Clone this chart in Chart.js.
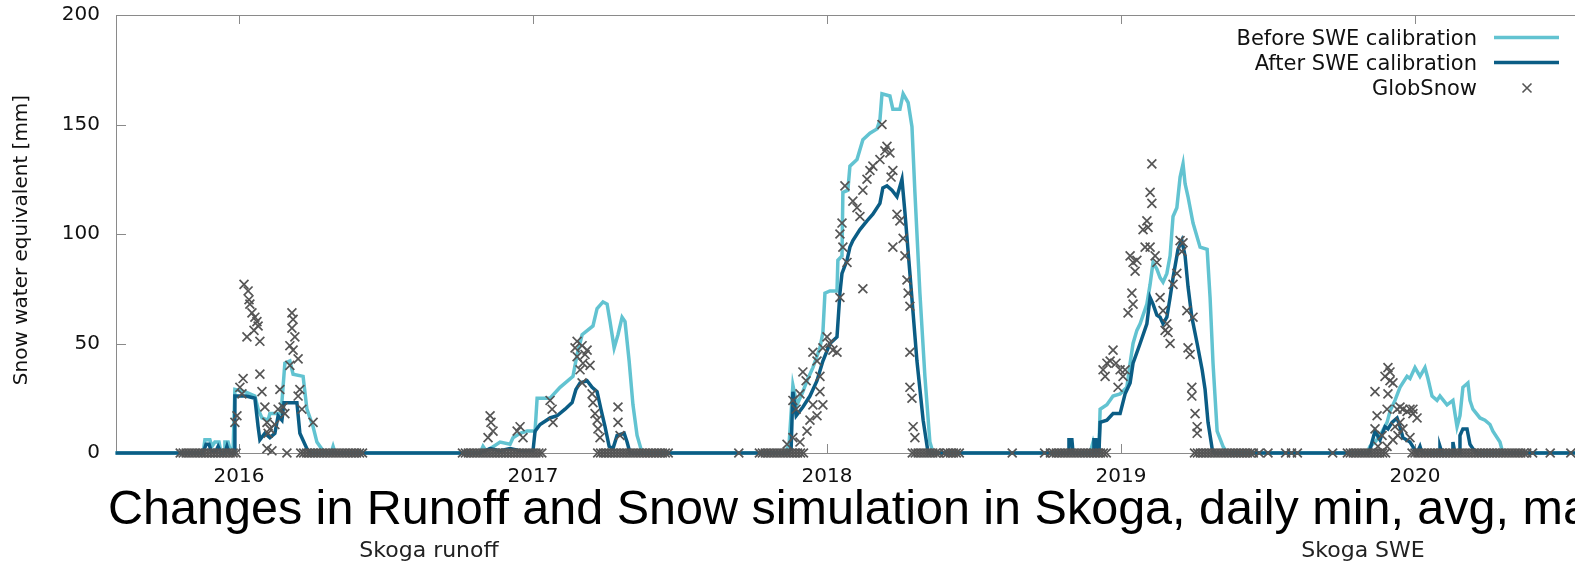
<!DOCTYPE html>
<html>
<head>
<meta charset="utf-8">
<title>Skoga SWE</title>
<script src="https://cdn.jsdelivr.net/npm/chart.js@4.4.1/dist/chart.umd.min.js"></script>
<style>
    html, body { margin: 0; padding: 0; background: #fff; overflow: hidden; }
    #wrap { width: 1575px; height: 564px; overflow: hidden; }
</style>
</head>
<body>
<div id="wrap"><canvas id="sweChart" width="1620" height="564"></canvas></div>
<script>
// dates are decimal years, values are snow water equivalent in mm
const yearTicks = [2016, 2017, 2018, 2019, 2020];
const sweTicks = [0, 50, 100, 150, 200];

const beforeYears = [
    2015.58,
    2015.878, 2015.884, 2015.901, 2015.908, 2015.918, 2015.932, 2015.939, 2015.949, 2015.952, 2015.963, 2015.969, 2015.980,
    2015.986, 2016.020, 2016.054, 2016.065, 2016.078, 2016.099, 2016.105, 2016.143, 2016.156, 2016.173, 2016.184, 2016.218,
    2016.231, 2016.252, 2016.265, 2016.286, 2016.299, 2016.313, 2016.320, 2016.327,
    2016.820, 2016.830, 2016.840, 2016.854, 2016.888, 2016.922, 2016.932, 2016.956, 2016.980, 2017.007, 2017.014, 2017.058,
    2017.092, 2017.136, 2017.150, 2017.167, 2017.204, 2017.218, 2017.238, 2017.252, 2017.262, 2017.276, 2017.289, 2017.303,
    2017.313, 2017.327, 2017.340, 2017.354, 2017.367, 2017.374,
    2017.857, 2017.871, 2017.884, 2017.898, 2017.918, 2017.932, 2017.952, 2017.976, 2017.986, 2017.993, 2018.010, 2018.034,
    2018.037, 2018.051, 2018.054, 2018.071, 2018.078, 2018.102, 2018.122, 2018.146, 2018.170, 2018.180, 2018.187, 2018.214,
    2018.224, 2018.248, 2018.259, 2018.276, 2018.289, 2018.299, 2018.316, 2018.333, 2018.350, 2018.361,
    2018.895, 2018.905, 2018.915, 2018.925, 2018.929, 2018.952, 2018.973, 2018.997, 2019.020, 2019.031, 2019.041, 2019.054,
    2019.065, 2019.088, 2019.099, 2019.109, 2019.122, 2019.133, 2019.143, 2019.156, 2019.167, 2019.177, 2019.190, 2019.201,
    2019.211, 2019.218, 2019.228, 2019.245, 2019.269, 2019.293, 2019.303, 2019.313, 2019.327, 2019.347, 2019.361,
    2019.837, 2019.847, 2019.864, 2019.881, 2019.905, 2019.915, 2019.932, 2019.949, 2019.973, 2019.983, 2020.000, 2020.017,
    2020.034, 2020.044, 2020.058, 2020.075, 2020.085, 2020.109, 2020.129, 2020.143, 2020.153, 2020.163, 2020.180, 2020.187,
    2020.197, 2020.221, 2020.238, 2020.255, 2020.265, 2020.289, 2020.299,
    2020.66
];
const beforeSWE = [
    0,
    0, 6, 6, 3, 5, 5, 0, 0, 5, 5, 2, 2,
    29, 28, 26, 20, 16, 15, 18, 18, 41, 42, 36, 35,
    20, 12, 5, 1, 0, 0, 3, 0,
    0, 3, 1, 2, 5, 4, 7, 9, 10, 10, 25, 25,
    30, 35, 45, 54, 58, 66, 69, 68, 60, 48, 54, 62,
    60, 42, 22, 8, 2, 0,
    0, 4, 31, 22, 28, 33, 39, 48, 55, 73, 74, 74,
    88, 90, 119, 120, 131, 134, 143, 146, 148, 152, 164, 163,
    157, 157, 164, 160, 149, 119, 73, 35, 5, 0,
    0, 5, 0, 2, 20, 22, 26, 27, 30, 41, 50, 56,
    59, 68, 77, 87, 84, 80, 78, 82, 90, 108, 112, 126,
    132, 123, 117, 105, 94, 93, 71, 41, 10, 3, 0,
    0, 3, 5, 8, 14, 19, 24, 30, 35, 34, 39, 35,
    39, 34, 26, 24, 26, 22, 24, 12, 17, 30, 32, 24,
    20, 16, 15, 13, 10, 5, 0,
    0
];

const afterYears = [
    2015.58,
    2015.878, 2015.888, 2015.898, 2015.905, 2015.922, 2015.929, 2015.939, 2015.952, 2015.959, 2015.966, 2015.983, 2015.986,
    2016.024, 2016.054, 2016.065, 2016.071, 2016.088, 2016.105, 2016.122, 2016.133, 2016.146, 2016.153, 2016.197, 2016.207,
    2016.224, 2016.231, 2016.241,
    2016.820, 2016.854, 2016.888, 2016.922, 2016.956, 2017.000, 2017.007, 2017.024, 2017.058, 2017.082, 2017.109, 2017.133,
    2017.146, 2017.160, 2017.184, 2017.201, 2017.218, 2017.231, 2017.245, 2017.259, 2017.272, 2017.286, 2017.310, 2017.320,
    2017.330,
    2017.867, 2017.878, 2017.884, 2017.895, 2017.918, 2017.942, 2017.966, 2017.986, 2018.010, 2018.034, 2018.044, 2018.051,
    2018.068, 2018.078, 2018.088, 2018.112, 2018.136, 2018.156, 2018.180, 2018.190, 2018.204, 2018.221, 2018.238, 2018.255,
    2018.265, 2018.282, 2018.306, 2018.327, 2018.344,
    2018.820, 2018.823, 2018.833, 2018.837, 2018.905, 2018.908, 2018.915, 2018.918, 2018.925, 2018.929, 2018.952, 2018.973,
    2018.997, 2019.014, 2019.031, 2019.041, 2019.065, 2019.088, 2019.099, 2019.109, 2019.122, 2019.133, 2019.143, 2019.156,
    2019.167, 2019.177, 2019.194, 2019.207, 2019.218, 2019.228, 2019.241, 2019.259, 2019.276, 2019.286, 2019.296, 2019.310,
    2019.316,
    2019.844, 2019.854, 2019.864, 2019.881, 2019.898, 2019.908, 2019.922, 2019.939, 2019.949, 2019.959, 2019.983, 2019.997,
    2020.007, 2020.017, 2020.024, 2020.082, 2020.085, 2020.092, 2020.126, 2020.129, 2020.136, 2020.150, 2020.153, 2020.163,
    2020.177, 2020.187, 2020.197, 2020.211,
    2020.66
];
const afterSWE = [
    0,
    0, 4, 4, 1, 1, 3, 0, 0, 3, 0, 0, 26,
    26, 25, 12, 6, 9, 7, 9, 17, 15, 23, 23, 9,
    4, 2, 0,
    0, 2, 1, 2, 1, 1, 10, 13, 16, 17, 20, 23,
    29, 32, 33, 30, 28, 20, 12, 3, 2, 8, 9, 5,
    0,
    0, 2, 28, 17, 21, 26, 33, 42, 50, 53, 73, 82,
    88, 94, 97, 102, 106, 109, 114, 121, 122, 120, 117, 125,
    110, 82, 42, 15, 0,
    0, 6, 6, 0, 0, 6, 6, 0, 0, 14, 15, 18,
    18, 27, 32, 41, 50, 59, 71, 68, 63, 62, 59, 62,
    71, 80, 93, 97, 90, 76, 62, 50, 38, 29, 14, 2,
    0,
    0, 5, 10, 6, 12, 11, 14, 16, 12, 7, 5, 2,
    0, 3, 0, 0, 3, 0, 0, 5, 0, 0, 8, 11,
    11, 4, 2, 0,
    0
];

// GlobSnow observations above zero
const globYears = [
    2016.017, 2016.031, 2016.037, 2016.044, 2016.054, 2016.061, 2016.065, 2016.027, 2016.071, 2016.051, 2016.034, 2016.071,
    2016.014, 2016.003, 2016.010, 2015.993, 2015.986, 2016.078, 2016.088, 2016.095, 2016.105, 2016.112, 2016.099, 2016.139,
    2016.150, 2016.133, 2016.180, 2016.184, 2016.180, 2016.190, 2016.173, 2016.184, 2016.201, 2016.173, 2016.207, 2016.201,
    2016.214, 2016.252, 2016.163, 2016.095, 2016.122, 2016.156,
    2016.854, 2016.857, 2016.864, 2016.847, 2016.956, 2016.946, 2016.966, 2017.058, 2017.065, 2017.068, 2017.150, 2017.167,
    2017.184, 2017.150, 2017.170, 2017.194, 2017.160, 2017.167, 2017.201, 2017.204, 2017.211, 2017.218, 2017.221, 2017.228,
    2017.289, 2017.289, 2017.296, 2017.177, 2017.143,
    2017.864, 2017.884, 2017.908, 2017.884, 2017.895, 2017.918, 2017.929, 2017.908, 2017.942, 2017.932, 2017.952, 2017.952,
    2017.966, 2017.976, 2017.986, 2018.000, 2018.010, 2018.020, 2018.034, 2017.976, 2017.986, 2017.966, 2018.044, 2018.068,
    2018.054, 2018.044, 2018.051, 2018.061, 2018.088, 2018.102, 2018.112, 2018.122, 2018.136, 2018.146, 2018.156, 2018.180,
    2018.197, 2018.204, 2018.214, 2018.224, 2018.218, 2018.122, 2018.187, 2018.238, 2018.248, 2018.224, 2018.259, 2018.265,
    2018.272, 2018.276, 2018.282, 2018.282, 2018.282, 2018.289, 2018.293, 2018.299,
    2018.939, 2018.952, 2018.963, 2018.973, 2018.983, 2018.997, 2019.007, 2018.990, 2019.014, 2018.946, 2019.024, 2019.037,
    2019.041, 2019.031, 2019.041, 2019.054, 2019.048, 2019.105, 2019.099, 2019.105, 2019.088, 2019.092, 2019.075, 2019.082,
    2019.099, 2019.116, 2019.122, 2019.133, 2019.143, 2019.156, 2019.160, 2019.167, 2019.150, 2019.177, 2019.190, 2019.201,
    2019.211, 2019.207, 2019.228, 2019.235, 2019.241, 2019.241, 2019.252, 2019.259, 2019.259, 2019.224, 2019.245,
    2019.864, 2019.908, 2019.915, 2019.915, 2019.908, 2019.925, 2019.905, 2019.871, 2019.864, 2019.888, 2019.874, 2019.939,
    2019.949, 2019.959, 2019.973, 2019.983, 2019.993, 2019.949, 2019.959, 2019.942, 2019.925, 2019.983, 2019.905, 2019.993,
    2020.007, 2019.898, 2019.932
];
const globSWE = [
    77, 74, 68, 64, 62, 60, 58, 53, 51, 56, 70, 36,
    34, 30, 27, 17, 14, 28, 21, 14, 11, 1, 9, 29,
    21, 20, 64, 61, 57, 53, 49, 47, 43, 40, 29, 26,
    20, 14, 0, 2, 13, 18,
    17, 14, 10, 7, 12, 10, 7, 24, 20, 14, 51, 49,
    47, 44, 41, 40, 38, 32, 27, 23, 18, 15, 11, 7,
    21, 14, 8, 45, 48,
    4, 7, 5, 24, 20, 37, 33, 27, 15, 10, 22, 46,
    42, 35, 48, 53, 50, 47, 46, 28, 22, 17, 71, 87,
    94, 100, 105, 122, 115, 112, 108, 120, 125, 129, 131, 134,
    138, 140, 137, 129, 126, 75, 150, 109, 106, 94, 98, 90,
    79, 73, 67, 46, 30, 25, 12, 7,
    38, 41, 42, 47, 41, 38, 35, 30, 38, 35, 64, 73,
    68, 90, 87, 88, 83, 132, 119, 114, 106, 103, 102, 94,
    94, 90, 87, 71, 65, 59, 55, 50, 56, 77, 82, 97,
    96, 92, 48, 45, 30, 26, 18, 12, 9, 65, 62,
    28, 39, 37, 33, 27, 32, 20, 17, 11, 8, 3, 20,
    21, 20, 19, 20, 18, 14, 11, 8, 6, 7, 3, 20,
    16, 35, 12
];

// GlobSnow observations of no snow (value 0)
const globZeroYears = [
    2015.80, 2015.81, 2015.82, 2015.83, 2015.84, 2015.85, 2015.86, 2015.87, 2015.88, 2015.89, 2015.90, 2015.91, 2015.92, 2015.93, 2015.94, 2015.95, 2015.96, 2015.97, 2015.98, 2015.99,
    2016.21, 2016.22, 2016.23, 2016.24, 2016.25, 2016.26, 2016.27, 2016.28, 2016.29, 2016.30, 2016.31, 2016.32, 2016.33, 2016.34, 2016.35, 2016.36, 2016.37, 2016.38, 2016.39, 2016.40, 2016.41, 2016.42,
    2016.76, 2016.77, 2016.78, 2016.79, 2016.80, 2016.81, 2016.82, 2016.83, 2016.84, 2016.85, 2016.86, 2016.87, 2016.88, 2016.89, 2016.90, 2016.91, 2016.92, 2016.93, 2016.94, 2016.95, 2016.96, 2016.97, 2016.98, 2016.99, 2017.00, 2017.01, 2017.02, 2017.03,
    2017.22, 2017.23, 2017.24, 2017.25, 2017.26, 2017.27, 2017.28, 2017.29, 2017.30, 2017.31, 2017.32, 2017.33, 2017.34, 2017.35, 2017.36, 2017.37, 2017.38, 2017.39, 2017.40, 2017.41, 2017.42, 2017.43, 2017.44, 2017.45, 2017.46,
    2017.70,
    2017.77, 2017.78, 2017.79, 2017.80, 2017.81, 2017.82, 2017.83, 2017.84, 2017.85, 2017.86, 2017.87, 2017.88, 2017.89, 2017.90, 2017.91, 2017.92,
    2018.29, 2018.30, 2018.31, 2018.32, 2018.33, 2018.34, 2018.35, 2018.36, 2018.37, 2018.38, 2018.40, 2018.41, 2018.42, 2018.43, 2018.44, 2018.45,
    2018.63, 2018.74,
    2018.76, 2018.77, 2018.78, 2018.79, 2018.80, 2018.81, 2018.82, 2018.83, 2018.84, 2018.85, 2018.86, 2018.87, 2018.88, 2018.89, 2018.90, 2018.91, 2018.92, 2018.93, 2018.94, 2018.95,
    2019.25, 2019.26, 2019.27, 2019.28, 2019.29, 2019.30, 2019.31, 2019.32, 2019.33, 2019.34, 2019.35, 2019.36, 2019.37, 2019.38, 2019.39, 2019.40, 2019.41, 2019.42, 2019.43, 2019.44, 2019.45,
    2019.47, 2019.50, 2019.56, 2019.58, 2019.60, 2019.72,
    2019.77, 2019.78, 2019.79, 2019.80, 2019.81, 2019.82, 2019.83, 2019.84, 2019.85, 2019.86, 2019.87, 2019.88, 2019.89, 2019.90,
    2019.99, 2020.00, 2020.01, 2020.02, 2020.03, 2020.04, 2020.05, 2020.06, 2020.07, 2020.08, 2020.09, 2020.10, 2020.11, 2020.12, 2020.13, 2020.14, 2020.15, 2020.16, 2020.17, 2020.18,
    2020.19, 2020.20, 2020.21, 2020.22, 2020.23, 2020.24, 2020.25, 2020.26, 2020.27, 2020.28, 2020.29, 2020.30, 2020.31, 2020.32, 2020.33, 2020.34, 2020.35, 2020.36, 2020.37, 2020.38,
    2020.40, 2020.46, 2020.53
];

const X_MIN = 2015.5816;
const X_MAX = 2020.6633;

const BEFORE_COLOR = '#62c3d1';
const AFTER_COLOR = '#0b5d85';
const GLOB_COLOR = '#555555';
const FRAME_COLOR = '#8a8a8a';
const TEXT_COLOR = '#111111';

function toPoints(xs, ys) {
    return xs.map(function (x, i) { return {x: x, y: ys[i]}; });
}

const globPoints = toPoints(globYears, globSWE)
    .concat(globZeroYears.map(function (x) { return {x: x, y: 0}; }));

function drawCross(ctx, cx, cy, r) {
    ctx.beginPath();
    ctx.moveTo(cx - r, cy - r);
    ctx.lineTo(cx + r, cy + r);
    ctx.moveTo(cx - r, cy + r);
    ctx.lineTo(cx + r, cy - r);
    ctx.stroke();
}

function noScalePadding(scale) {
    scale.paddingTop = 0;
    scale.paddingBottom = 0;
    scale.paddingLeft = 0;
    scale.paddingRight = 0;
}

// gnuplot style border with inward ticks
const gnuplotFrame = {
    id: 'gnuplotFrame',
    beforeDatasetsDraw(chart) {
        const ctx = chart.ctx;
        const a = chart.chartArea;
        const x = chart.scales.x;
        const y = chart.scales.y;
        ctx.save();
        ctx.strokeStyle = FRAME_COLOR;
        ctx.lineWidth = 1;
        ctx.strokeRect(a.left + 0.5, a.top + 0.5, a.right - a.left, a.bottom - a.top);
        ctx.beginPath();
        sweTicks.forEach(function (v) {
            const py = Math.round(y.getPixelForValue(v)) + 0.5;
            ctx.moveTo(a.left, py);
            ctx.lineTo(a.left + 10, py);
            ctx.moveTo(a.right, py);
            ctx.lineTo(a.right - 10, py);
        });
        yearTicks.forEach(function (v) {
            const px = Math.round(x.getPixelForValue(v)) + 0.5;
            ctx.moveTo(px, a.bottom);
            ctx.lineTo(px, a.bottom - 9);
            ctx.moveTo(px, a.top);
            ctx.lineTo(px, a.top + 9);
        });
        ctx.stroke();
        ctx.restore();
    },
    afterDraw(chart) {
        const ctx = chart.ctx;
        ctx.save();
        ctx.fillStyle = TEXT_COLOR;

        // legend (top right, inside the plot)
        ctx.font = '21px "DejaVu Sans"';
        ctx.textAlign = 'right';
        ctx.textBaseline = 'alphabetic';
        ctx.fillText('Before SWE calibration', 1477, 45);
        ctx.fillText('After SWE calibration', 1477, 70);
        ctx.fillText('GlobSnow', 1477, 95);
        ctx.lineWidth = 3.5;
        ctx.strokeStyle = BEFORE_COLOR;
        ctx.beginPath(); ctx.moveTo(1494, 37.5); ctx.lineTo(1559, 37.5); ctx.stroke();
        ctx.strokeStyle = AFTER_COLOR;
        ctx.beginPath(); ctx.moveTo(1494, 62.5); ctx.lineTo(1559, 62.5); ctx.stroke();
        ctx.lineWidth = 1.6;
        ctx.strokeStyle = GLOB_COLOR;
        drawCross(ctx, 1527, 88, 4.5);

        // y axis title
        ctx.save();
        ctx.translate(22, 240);
        ctx.rotate(-Math.PI / 2);
        ctx.textAlign = 'center';
        ctx.textBaseline = 'middle';
        ctx.font = '20px "DejaVu Sans"';
        ctx.fillText('Snow water equivalent [mm]', 0, 0);
        ctx.restore();

        // overlapping page texts below the plot
        ctx.fillStyle = '#000';
        ctx.textAlign = 'left';
        ctx.textBaseline = 'alphabetic';
        ctx.font = '48.5px "Liberation Sans"';
        ctx.fillText('Changes in Runoff and Snow simulation in Skoga, daily min, avg, max', 108, 524);
        ctx.fillStyle = '#222';
        ctx.textAlign = 'center';
        ctx.textBaseline = 'middle';
        ctx.font = '22px "DejaVu Sans"';
        ctx.fillText('Skoga runoff', 429, 551);
        ctx.fillText('Skoga SWE', 1363, 551);
        ctx.restore();
    }
};

const ctx = document.getElementById('sweChart').getContext('2d');
const chart = new Chart(ctx, {
    type: 'line',
    data: {
        datasets: [{
            label: 'GlobSnow',
            data: globPoints,
            showLine: false,
            pointStyle: 'crossRot',
            pointRadius: 6.3,
            pointBorderWidth: 1.7,
            borderColor: GLOB_COLOR,
            backgroundColor: GLOB_COLOR,
            order: 0,
            clip: false
        }, {
            label: 'After SWE calibration',
            data: toPoints(afterYears, afterSWE),
            borderColor: AFTER_COLOR,
            borderWidth: 3.5,
            pointRadius: 0,
            tension: 0,
            order: 1,
            clip: false
        }, {
            label: 'Before SWE calibration',
            data: toPoints(beforeYears, beforeSWE),
            borderColor: BEFORE_COLOR,
            borderWidth: 3.5,
            pointRadius: 0,
            tension: 0,
            order: 2,
            clip: false
        }]
    },
    options: {
        responsive: false,
        animation: false,
        events: [],
        layout: {padding: {left: 0, top: 15, right: 10, bottom: 0}},
        plugins: {
            legend: {display: false},
            tooltip: {enabled: false},
            title: {display: false}
        },
        scales: {
            x: {
                type: 'linear',
                min: X_MIN,
                max: X_MAX,
                grid: {display: false, drawTicks: false},
                border: {display: false},
                afterBuildTicks: function (scale) {
                    scale.ticks = yearTicks.map(function (v) { return {value: v}; });
                },
                afterFit: function (scale) {
                    scale.height = 111;
                    noScalePadding(scale);
                },
                ticks: {
                    font: {family: 'DejaVu Sans', size: 20},
                    color: TEXT_COLOR,
                    padding: 12,
                    maxRotation: 0,
                    autoSkip: false,
                    callback: function (v) { return String(v); }
                }
            },
            y: {
                min: 0,
                max: 200,
                grid: {display: false, drawTicks: false},
                border: {display: false},
                afterFit: function (scale) {
                    scale.width = 116;
                    noScalePadding(scale);
                },
                ticks: {
                    stepSize: 50,
                    font: {family: 'DejaVu Sans', size: 20},
                    color: TEXT_COLOR,
                    padding: 16
                }
            }
        }
    },
    plugins: [gnuplotFrame]
});
</script>
</body>
</html>
